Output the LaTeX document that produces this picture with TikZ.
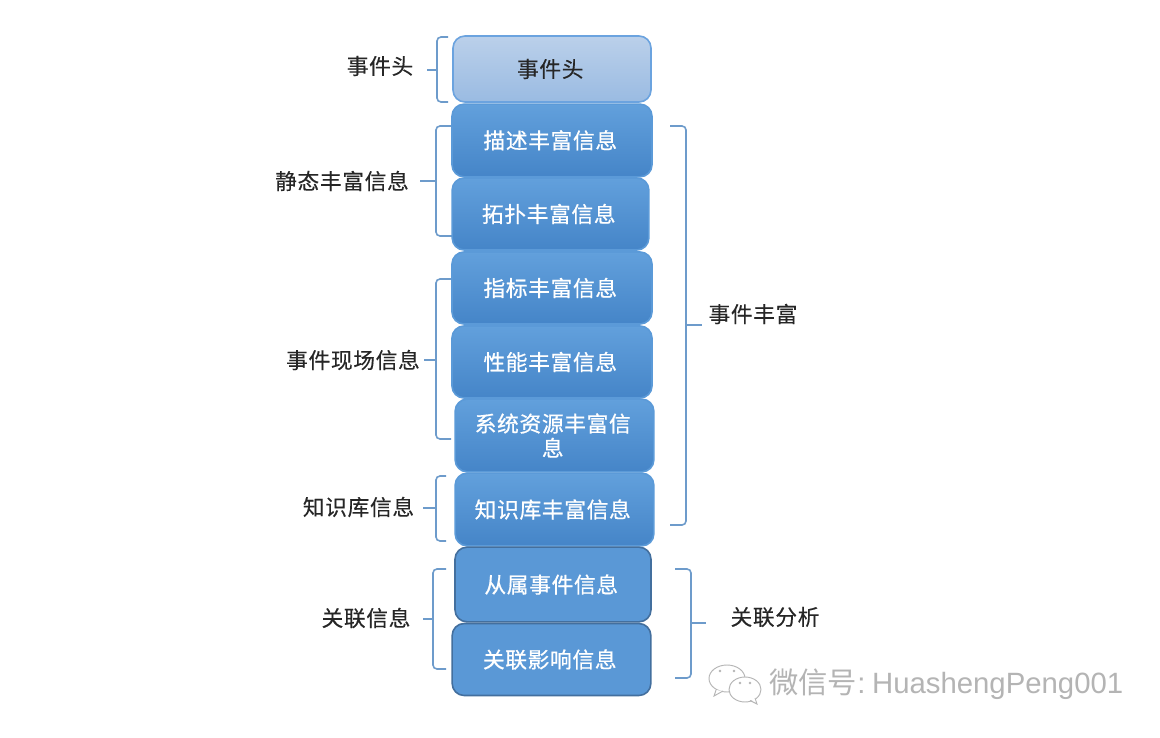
\documentclass[tikz,border=0pt]{standalone}
\usepackage{fontspec}
\newfontfamily\cjk[LetterSpace=3,FakeBold=0.25]{Noto Sans CJK SC}
\newfontfamily\cjkw[LetterSpace=3,FakeBold=0.7]{Noto Sans CJK SC}
\newfontfamily\wm{Noto Sans CJK SC}
\setmainfont{Liberation Sans}
\newcommand{\tx}[2][0.7pt]{\raisebox{#1}{#2}\kern2.6pt}
\definecolor{bracecol}{HTML}{6D9BCB}
\definecolor{boxtop}{HTML}{62A0DC}
\definecolor{boxbot}{HTML}{4585C8}
\definecolor{boxedge}{HTML}{5B9AD8}
\definecolor{lighttop}{HTML}{BBD0EA}
\definecolor{lightbot}{HTML}{9ABBE2}
\definecolor{lightedge}{HTML}{6BA3DF}
\definecolor{flatfill}{HTML}{5A98D6}
\definecolor{flatedge}{HTML}{436F9E}
\definecolor{wmcol}{HTML}{B4B4B4}
\tikzset{
  x=0.75pt,y=-0.75pt,
  basebox/.style={rectangle,rounded corners=9pt,inner sep=0pt,align=center,line width=1.2pt,font=\cjkw\fontsize{16.3pt}{18.3pt}\selectfont},
  bluebox/.style={basebox,draw=boxedge,top color=boxtop,bottom color=boxbot,text=white},
  lightbox/.style={basebox,draw=lightedge,top color=lighttop,bottom color=lightbot,text=black!85,font=\cjk\fontsize{16.3pt}{18.3pt}\selectfont},
  flatbox/.style={basebox,draw=flatedge,fill=flatfill,text=white},
  sidelabel/.style={inner sep=0pt,text=black!85,font=\cjk\fontsize{16.3pt}{18pt}\selectfont},
  bracket/.style={draw=bracecol,line width=1.2pt,rounded corners=3pt},
  tick/.style={draw=bracecol,line width=1.2pt},
  bubble/.style={draw=wmcol,line width=0.7pt,fill=white},
  bubbledot/.style={fill=wmcol,circle,inner sep=0pt,minimum size=2pt},
}
\begin{document}
\begin{tikzpicture}
\useasboundingbox (0,0) rectangle (1160,738);
\fill[white] (0,0) rectangle (1160,738);

% brackets
\path[bracket] (448,37)--(437,37)--(437,102)--(448,102);
\path[tick] (437,70)--(427,70);
\path[bracket] (452,126)--(436,126)--(436,236)--(452,236);
\path[tick] (436,181)--(420,181);
\path[bracket] (451,279)--(436,279)--(436,439)--(451,439);
\path[tick] (436,360)--(424,360);
\path[bracket] (446,476)--(436,476)--(436,541)--(446,541);
\path[tick] (436,508)--(423,508);
\path[bracket] (446,569)--(433,569)--(433,669)--(446,669);
\path[tick] (433,619)--(423,619);
\path[bracket] (670,126)--(686,126)--(686,525)--(670,525);
\path[tick] (686,325)--(702,325);
\path[bracket] (675,569)--(691,569)--(691,678)--(675,678);
\path[tick] (691,623)--(706,623);

% boxes
\node[lightbox,minimum width=148.5pt,minimum height=49.5pt] (b1) at (552,69) {\tx{事件头}};
\node[bluebox,minimum width=150pt,minimum height=54.5pt] (b2) at (552,140.5) {\tx[1.6pt]{描述丰富信息}};
\node[bluebox,minimum width=147.5pt,minimum height=54pt] (b3) at (550.5,214) {\tx{拓扑丰富信息}};
\node[bluebox,minimum width=150pt,minimum height=54pt] (b4) at (552,288) {\tx{指标丰富信息}};
\node[bluebox,minimum width=150pt,minimum height=54pt] (b5) at (552,362) {\tx{性能丰富信息}};
\node[bluebox,minimum width=149pt,minimum height=54.5pt] (b6) at (554.5,435.5) {\tx{系统资源丰富信}\\\tx{息}};
\node[bluebox,minimum width=149pt,minimum height=54.5pt] (b7) at (554.5,509.5) {\tx{知识库丰富信息}};
\node[flatbox,minimum width=147pt,minimum height=56pt] (b8) at (553,584.5) {\tx{从属事件信息}};
\node[flatbox,minimum width=149pt,minimum height=54pt] (b9) at (551.5,659.5) {\tx{关联影响信息}};

% side labels
\node[sidelabel] (l1) at (380,66) {事件头};
\node[sidelabel] (l2) at (342,181) {静态丰富信息};
\node[sidelabel] (l3) at (353,360) {事件现场信息};
\node[sidelabel] (l4) at (358.5,507) {知识库信息};
\node[sidelabel] (l5) at (366,618) {关联信息};
\node[sidelabel] (r1) at (753,314) {事件丰富};
\node[sidelabel] (r2) at (775,617) {关联分析};

% watermark
\draw[bubble] (727,678.5) ellipse (18 and 13.5);
\draw[bubble] (716,690)--(714,696)--(723,691);
\node[bubbledot] (d1) at (720,671) {};
\node[bubbledot] (d2) at (734,671) {};
\draw[bubble] (745,689.5) ellipse (16 and 12.5);
\path[fill=white] (750,699)--(757,704)--(755,696)--cycle;
\draw[draw=wmcol,line width=0.7pt] (750,700.5)--(757,704)--(755,698);
\node[bubbledot] (d3) at (740,683) {};
\node[bubbledot] (d4) at (750,683) {};
\node[inner sep=0pt,anchor=west,text=wmcol,font=\fontsize{22pt}{24pt}\selectfont] (w) at (769,684) {{\wm 微信号}:\kern5pt HuashengPeng001};
\end{tikzpicture}
\end{document}
